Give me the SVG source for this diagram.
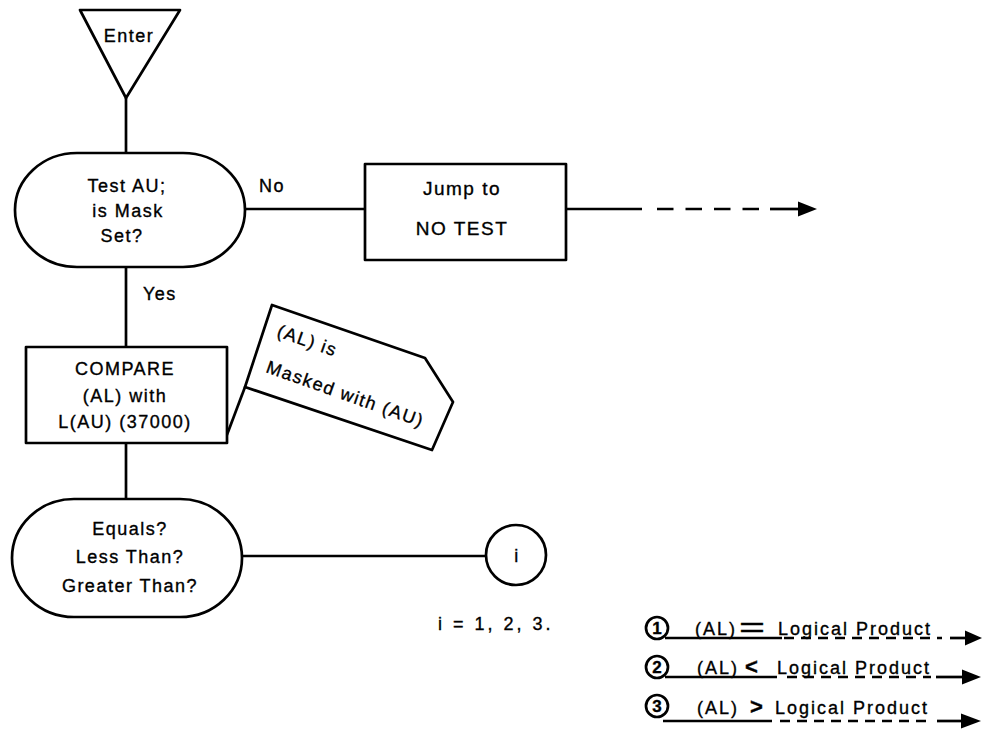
<svg xmlns="http://www.w3.org/2000/svg" width="984" height="731" viewBox="0 0 984 731">
<style>
  .shape { fill: #fff; stroke: #000; stroke-width: 2.7; stroke-linejoin: round; }
  .line { fill: none; stroke: #000; stroke-width: 2.7; }
  .dash { fill: none; stroke: #000; stroke-width: 2.7; stroke-dasharray: 16.5 12; }
  .dash2 { fill: none; stroke: #000; stroke-width: 2.5; stroke-dasharray: 10 7; }
  .head { fill: #000; stroke: none; }
  text { font-family: "Liberation Sans", Arial, sans-serif; font-size: 18px; fill: #000; stroke: #000; stroke-width: 0.35px; letter-spacing: 1.5px; }
  .c { text-anchor: middle; }
  .lg { letter-spacing: 2px; }
  .num { font-weight: bold; font-size: 17px; text-anchor: middle; letter-spacing: 0; }
</style>

<g id="connectors">
  <line class="line" x1="126" y1="98" x2="126" y2="153"/>
  <line class="line" x1="126" y1="267" x2="126" y2="347"/>
  <line class="line" x1="126" y1="443" x2="126" y2="499"/>
  <line class="line" x1="245" y1="209" x2="365" y2="209"/>
  <line class="line" x1="566" y1="209" x2="642" y2="209"/>
  <line class="dash" x1="657" y1="209" x2="760" y2="209"/>
  <line class="line" x1="770" y1="209" x2="800" y2="209"/>
  <polygon class="head" points="798,201.5 817,209 798,216.5"/>
  <line class="line" x1="225" y1="440" x2="245" y2="387"/>
  <line class="line" x1="242" y1="556" x2="487" y2="556"/>
  <text x="259" y="192">No</text>
  <text x="143" y="300">Yes</text>
</g>

<g id="enter">
  <polygon class="shape" points="80,10 180,10 126,98"/>
  <text class="c" x="129" y="42">Enter</text>
</g>

<g id="test-au">
  <rect class="shape" x="15" y="153" width="230" height="114" rx="62" ry="57"/>
  <text class="c" x="127" y="192">Test AU;</text>
  <text class="c" x="128" y="217">is Mask</text>
  <text class="c" x="122" y="242">Set?</text>
</g>

<g id="jump">
  <rect class="shape" x="365" y="164" width="201" height="96"/>
  <text class="c" x="462" y="195" style="font-size:19px">Jump to</text>
  <text class="c" x="462" y="235" style="font-size:19px">NO TEST</text>
</g>

<g id="compare">
  <rect class="shape" x="26" y="347" width="201" height="96"/>
  <text class="c" x="125" y="375">COMPARE</text>
  <text class="c" x="125" y="402">(AL) with</text>
  <text class="c" x="125" y="428">L(AU) (37000)</text>
</g>

<g id="annotation">
  <polygon class="shape" points="272,305 425,358 453,402 432,450 245,387"/>
  <text transform="translate(276,336) rotate(19.5)" style="font-size:18px">(AL) is</text>
  <text transform="translate(265,372) rotate(19.5)" style="font-size:18px">Masked with (AU)</text>
</g>

<g id="equals">
  <rect class="shape" x="12" y="499" width="230" height="118" rx="62" ry="59"/>
  <text class="c" x="130" y="535">Equals?</text>
  <text class="c" x="130" y="563">Less Than?</text>
  <text class="c" x="130" y="592">Greater Than?</text>
</g>

<g id="connector-i">
  <circle class="shape" cx="516" cy="555" r="30"/>
  <text class="c" x="517" y="562">i</text>
</g>

<g id="index-note">
  <text x="438" y="630" style="letter-spacing:3px">i = 1, 2, 3.</text>
</g>

<g id="legend-1">
  <circle class="line" cx="657" cy="628" r="11"/>
  <text class="num" x="657" y="634">1</text>
  <text class="lg" x="695" y="635">(AL)</text>
  <text x="739" y="637" style="font-size:28px;letter-spacing:0" textLength="26" lengthAdjust="spacingAndGlyphs">=</text>
  <text class="lg" x="778" y="635">Logical Product</text>
  <line class="line" x1="665" y1="638" x2="782" y2="638"/>
  <line class="dash2" x1="784" y1="638" x2="942" y2="638"/>
  <line class="line" x1="950" y1="638" x2="968" y2="638"/>
  <polygon class="head" points="965,630.5 982,638 965,645.5"/>
</g>

<g id="legend-2">
  <circle class="line" cx="657" cy="667" r="11"/>
  <text class="num" x="657" y="673">2</text>
  <text class="lg" x="697" y="674">(AL)</text>
  <text x="745" y="674" style="font-size:22px;font-weight:bold;letter-spacing:0">&lt;</text>
  <text class="lg" x="777" y="674">Logical Product</text>
  <line class="line" x1="665" y1="677" x2="777" y2="677"/>
  <line class="dash2" x1="787" y1="677" x2="931" y2="677"/>
  <line class="line" x1="936" y1="677" x2="964" y2="677"/>
  <polygon class="head" points="962,669.5 981,677 962,684.5"/>
</g>

<g id="legend-3">
  <circle class="line" cx="657" cy="706" r="11"/>
  <text class="num" x="657" y="712">3</text>
  <text class="lg" x="697" y="714">(AL)</text>
  <text x="750" y="714" style="font-size:22px;font-weight:bold;letter-spacing:0">&gt;</text>
  <text class="lg" x="775" y="714">Logical Product</text>
  <line class="line" x1="663" y1="721" x2="772" y2="721"/>
  <line class="dash2" x1="780" y1="721" x2="929" y2="721"/>
  <line class="line" x1="937" y1="721" x2="963" y2="721"/>
  <polygon class="head" points="961,713.5 981,721 961,728.5"/>
</g>
</svg>
